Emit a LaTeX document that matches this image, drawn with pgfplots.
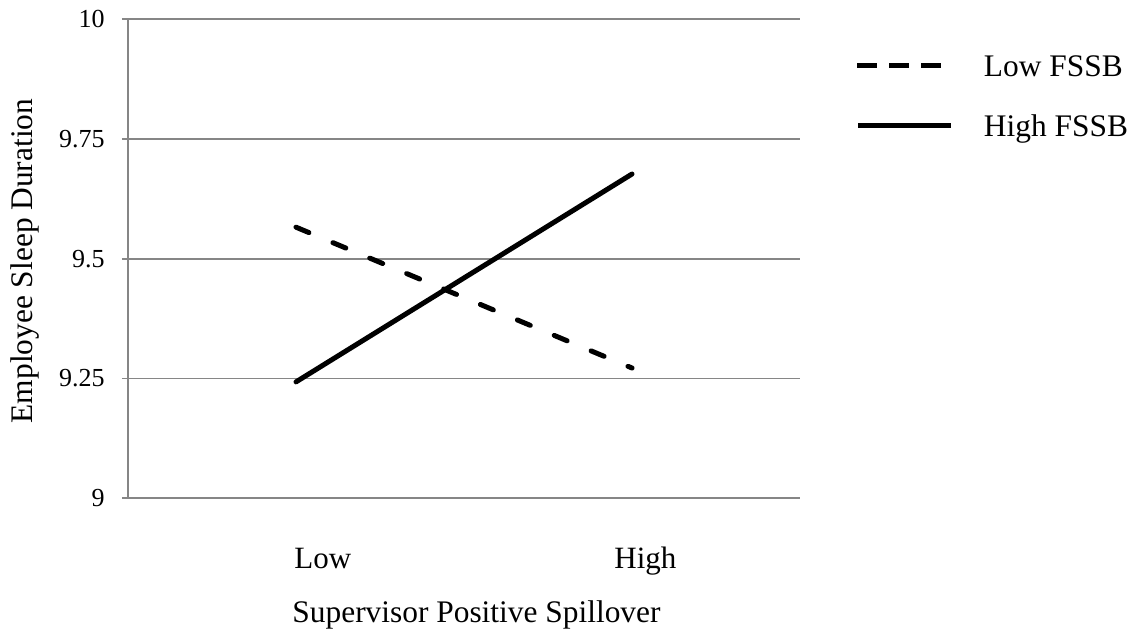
\documentclass[border=0pt]{standalone}
\usepackage{fontspec}
\setmainfont{Liberation Serif}
\usepackage{pgfplots}
\pgfplotsset{compat=1.18}
\definecolor{gridgray}{RGB}{134,134,134}
\begin{document}
\begin{tikzpicture}
\path[use as bounding box] (-64pt,-68.35pt) rectangle (507.5pt,249.15pt);
\begin{axis}[
  at={(0,0)}, anchor=south west,
  scale only axis,
  width=336pt, height=239.5pt,
  xmin=0, xmax=4, ymin=9, ymax=10,
  axis lines=left,
  axis line style={-, draw=gridgray, line width=0.9pt},
  ytick={9,9.25,9.5,9.75,10},
  yticklabels={9,9.25,9.5,9.75,10},
  ymajorgrids,
  grid style={draw=gridgray, line width=0.9pt},
  ytick style={draw=gridgray, line width=0.9pt},
  tick align=outside,
  major tick length=3pt,
  xtick={1.16,3.08},
  xticklabels={Low,High},
  major x tick style={draw=none},
  /pgf/number format/assume math mode=true,
  yticklabel style={font=\fontsize{13}{15}\selectfont, inner sep=0pt, anchor=east, xshift=-8.5pt},
  xticklabel style={font=\fontsize{15.5}{18}\selectfont, inner sep=0pt, anchor=base, yshift=-32pt},
  xlabel={Supervisor Positive Spillover},
  ylabel={Employee Sleep Duration},
  label style={font=\fontsize{15.7}{18}\selectfont},
  xlabel style={at={(axis description cs:0.5186,-0.26)}, anchor=base, inner sep=0pt},
  ylabel style={at={(axis description cs:-0.1533,0.4954)}, anchor=center, inner sep=0pt},
  legend style={draw=none, fill=none, inner sep=0pt, outer sep=0pt,
    at={(axis description cs:1.0818,0.8399)}, anchor=west,
    font=\fontsize{15.7}{18}\selectfont,
    nodes={inner sep=0pt, text height=10.5pt, text depth=0pt},
    row sep=19.5pt,
    /tikz/every odd column/.style={column sep=15pt}},
  legend cell align=left,
  cells={anchor=west},
  clip=false,
]
\addplot[black, line width=2.5pt, line cap=round, dash pattern=on 7pt off 13pt,
  legend image code/.code={\draw[black, line width=2.5pt, line cap=butt, dash pattern=on 10pt off 6pt] (0pt,0pt) -- (42.5pt,0pt);}]
  coordinates {(1,9.566) (3,9.272)};
\addlegendentry{Low FSSB}
\addplot[black, line width=2.5pt, line cap=round, solid,
  legend image code/.code={\draw[black, line width=2.5pt, line cap=butt] (0.5pt,0pt) -- (47pt,0pt);}]
  coordinates {(1,9.243) (3,9.677)};
\addlegendentry{High FSSB}
\end{axis}
\end{tikzpicture}
\end{document}
